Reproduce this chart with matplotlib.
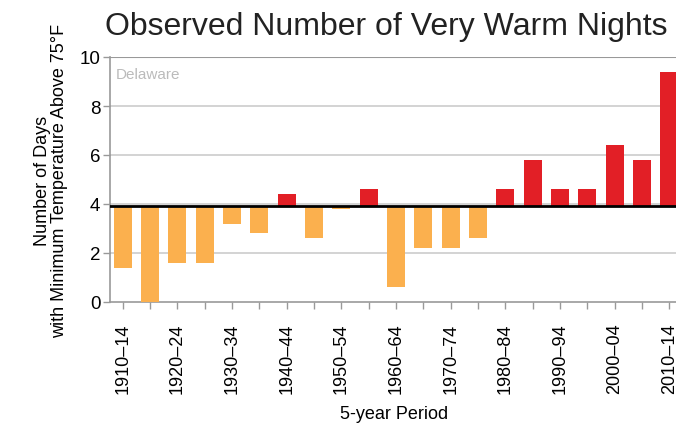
import matplotlib
matplotlib.use("Agg")
import matplotlib.pyplot as plt
import numpy as np

plt.rcParams['font.family'] = ['Liberation Sans', 'DejaVu Sans']

periods = ["1910–14", "1915–19", "1920–24", "1925–29", "1930–34", "1935–39",
           "1940–44", "1945–49", "1950–54", "1955–59", "1960–64", "1965–69",
           "1970–74", "1975–79", "1980–84", "1985–89", "1990–94", "1995–99",
           "2000–04", "2005–09", "2010–14"]
values = [1.4, 0.0, 1.6, 1.6, 3.2, 2.8, 4.4, 2.6, 3.8, 4.6, 0.6, 2.2,
          2.2, 2.6, 4.6, 5.8, 4.6, 4.6, 6.4, 5.8, 9.4]
baseline = 3.9
yticks = [0, 2, 4, 6, 8, 10]

fig = plt.figure(figsize=(6.76, 4.27), dpi=100)
ax = fig.add_axes([110/676, 1-303/427, 1-110/676 + 0.002, (303-58)/427])

x = np.arange(len(values))
vals = np.array(values)
colors = ['#E21F26' if v > baseline else '#FBB04E' for v in vals]
ax.bar(x, vals - baseline, bottom=baseline, width=0.66, color=colors,
       edgecolor='none', zorder=3)
ax.axhline(baseline, color='black', lw=2, zorder=4)

ax.set_ylim(0, 10)
ax.set_xlim(-0.47, 20.3)
ax.set_yticks(yticks)
ax.set_yticklabels([str(t) for t in yticks], fontsize=13.5)
for t in yticks[1:-1]:
    ax.axhline(t, color='#cccccc', lw=1.2, zorder=1)
ax.axhline(10, color='#999999', lw=1.5, zorder=1)

ax.set_xticks(x)
ax.set_xticklabels([p if i % 2 == 0 else '' for i, p in enumerate(periods)],
                   rotation=90, fontsize=13)
ax.tick_params(axis='x', length=5, color='#999999', width=1, pad=10)
ax.tick_params(axis='y', length=5, color='#999999', width=1, pad=2)

for s in ['top', 'right']:
    ax.spines[s].set_visible(False)
for s in ['left', 'bottom']:
    ax.spines[s].set_color('#999999')
    ax.spines[s].set_linewidth(1.2)

ax.text(0.01, 0.93, 'Delaware', transform=ax.transAxes, color='#bbbbbb',
        fontsize=11, va='center', ha='left')

ax.set_ylabel('Number of Days\nwith Minimum Temperature Above 75°F',
              fontsize=13, labelpad=8, linespacing=1.05)
ax.set_xlabel('5-year Period', fontsize=13, labelpad=8)

fig.text(0.155, 0.937, 'Observed Number of Very Warm Nights', fontsize=23,
         ha='left', va='center', color='#222222')

fig.savefig('out.png', dpi=100)
